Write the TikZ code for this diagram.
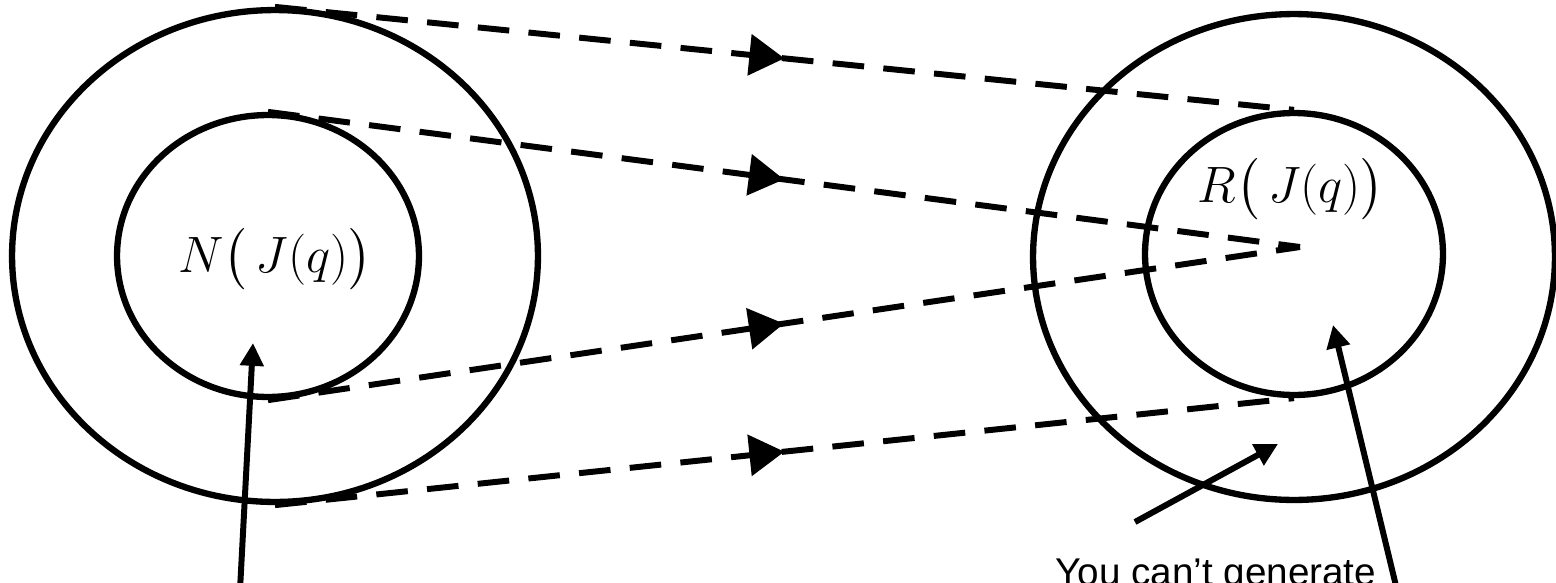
\documentclass[tikz,border=0pt]{standalone}
\usepackage{amsmath}
\usepackage{fontspec}
\newfontfamily\notefont{Liberation Sans}
\usepackage{tikz}
\usetikzlibrary{arrows.meta,shapes.geometric}
\usetikzlibrary{decorations.markings}

\tikzset{
  ring/.style={draw, ellipse, line width=3.6pt, inner sep=0pt},
  flow/.style={line width=3.4pt, dash pattern=on 18pt off 11pt,
    postaction={decorate},
    decoration={markings,
      mark=at position 0.5 with {\arrow{Triangle[length=20pt,width=23pt]}}}},
  pointer/.style={line width=3.4pt, -{Triangle[length=13pt,width=13pt]}},
  lbl/.style={font=\Huge, scale=1.17, transform shape, anchor=base, inner sep=0pt}
}

\begin{document}
\begin{tikzpicture}[x=0.02cm, y=-0.02cm]

\clip (0,0) rectangle (1556,582);

% the two sets
\node[ring, minimum width=10.52cm, minimum height=9.84cm] (outerL) at (275,256) {};
\node[ring, minimum width=6.04cm, minimum height=5.64cm] (innerL) at (268,256) {};
\node[ring, minimum width=10.44cm, minimum height=9.72cm] (outerR) at (1294,257) {};
\node[ring, minimum width=5.96cm, minimum height=5.64cm] (innerR) at (1294,254) {};

\node[lbl] (nLabel) at (275,272) {$N\bigl(\,J(q)\bigr)$};
\node[lbl] (rLabel) at (1291,202) {$R\bigl(\,J(q)\bigr)$};

% mapping
\coordinate (meet) at (1300,247);
\draw[flow] (outerL.north) -- (innerR.north);
\draw[flow] (innerL.north) -- (meet);
\draw[flow] (innerL.south) -- (meet);
\draw[flow] (outerL.south) -- (innerR.south);

% pointers
\coordinate (tailL) at (240,590);
\coordinate (tipL) at (253,343);
\draw[pointer] (tailL) -- (tipL);

\coordinate (tailR) at (1397,590);
\coordinate (tipR) at (1333,325);
\draw[pointer] (tailR) -- (tipR);

\node[font=\notefont\fontsize{22}{26}\selectfont, anchor=base west, inner sep=0pt]
  (note) at (1055,585) {You can’t generate};
\coordinate (noteTail) at (1135,522);
\coordinate (noteTip) at (1278,444);
\draw[pointer] (noteTail) -- (noteTip);

\end{tikzpicture}
\end{document}
